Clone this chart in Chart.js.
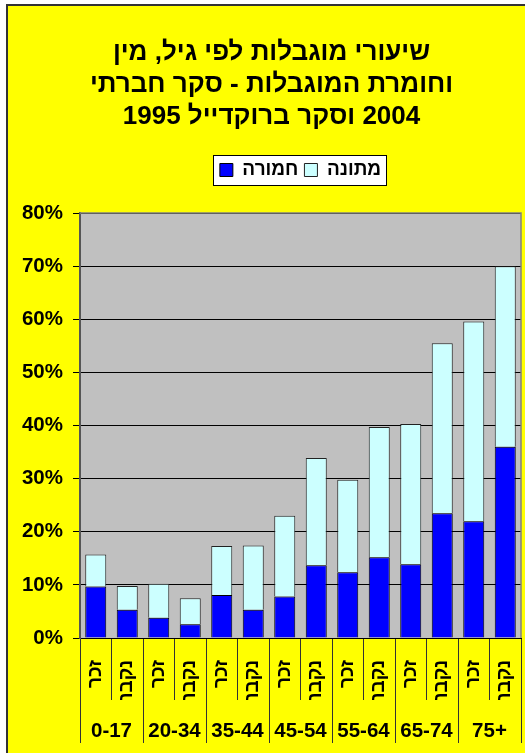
<!DOCTYPE html>
<html lang="he">
<head>
<meta charset="utf-8">
<script src="https://cdn.jsdelivr.net/npm/chart.js@4/dist/chart.umd.min.js"></script>
<style>
  html, body { margin: 0; padding: 0; background: #ffffff; overflow: hidden; }
  #frame {
    position: absolute; left: 6px; top: 4px;
    width: 560px; height: 800px;
    background: #FFFF00;
    border-left: 2px solid #333333;
    border-top: 2px solid #333333;
  }
  #chart { display: block; }
</style>
</head>
<body>
<div id="frame"><canvas id="chart" width="528" height="746"></canvas></div>
<script>
// Disability rates by age group and sex (percent), social survey 2004 / Brookdale 1995
const titleLines = [
  'שיעורי מוגבלות לפי גיל, מין',
  'וחומרת המוגבלות - סקר חברתי',
  '2004 וסקר ברוקדייל 1995'
];
const seriesNames = ['חמורה', 'מתונה'];
const ageGroups = ['0-17', '20-34', '35-44', '45-54', '55-64', '65-74', '75+'];
const sexes = ['זכר', 'נקבה'];
const severe   = [9.7, 5.3, 3.8, 2.6, 8.1, 5.3, 7.8, 13.7, 12.4, 15.2, 13.9, 23.5, 22.0, 36.0];
const moderate = [6.0, 4.5, 6.4, 4.9, 9.2, 12.1, 15.2, 20.2, 17.4, 24.5, 26.4, 32.0, 37.6, 34.0];
const yMax = 80;
const yStep = 10;

const barLabels = ageGroups.flatMap(() => sexes);
const FONT = "'Liberation Sans', 'DejaVu Sans', sans-serif";
// wrap each title line in a right-to-left embedding so numbers sit correctly
const rtlLine = s => '\u202B' + s + '\u202C';

Chart.defaults.font.family = FONT;
Chart.defaults.font.weight = 'bold';
Chart.defaults.color = '#000000';

// grey plot background, gray plot border, white framed legend
const decorations = {
  id: 'decorations',
  afterLayout(chart) {
    // centre the legend above the plot area
    const lg = chart.legend, ca = chart.chartArea;
    if (lg && ca) {
      lg.left = ca.left;
      lg.right = ca.right;
      lg.width = ca.right - ca.left;
    }
  },
  beforeDraw(chart) {
    const { ctx, chartArea: ca } = chart;
    ctx.save();
    ctx.fillStyle = '#C0C0C0';
    ctx.fillRect(ca.left, ca.top, ca.right - ca.left, ca.bottom - ca.top);
    const hb = chart.legend && chart.legend.legendHitBoxes;
    if (hb && hb.length) {
      const l = Math.min(...hb.map(h => h.left)) - 7;
      const r = Math.max(...hb.map(h => h.left + h.width)) + 5;
      const cy = hb[0].top + hb[0].height / 2;
      ctx.fillStyle = '#FFFFFF';
      ctx.strokeStyle = '#000000';
      ctx.lineWidth = 1;
      ctx.fillRect(Math.round(l), Math.round(cy - 15), Math.round(r - l), 30);
      ctx.strokeRect(Math.round(l) + 0.5, Math.round(cy - 15) + 0.5, Math.round(r - l), 30);
    }
    ctx.restore();
  },
  beforeDatasetsDraw(chart) {
    const { ctx, chartArea: ca } = chart;
    ctx.save();
    ctx.strokeStyle = '#808080';
    ctx.lineWidth = 1.5;
    ctx.beginPath();
    ctx.moveTo(ca.left, ca.top);
    ctx.lineTo(ca.right, ca.top);
    ctx.lineTo(ca.right, ca.bottom);
    ctx.stroke();
    ctx.restore();
  }
};

new Chart(document.getElementById('chart'), {
  type: 'bar',
  data: {
    labels: barLabels,
    datasets: [
      {
        label: seriesNames[0],
        data: severe,
        backgroundColor: '#0000FF',
        borderColor: '#000000',
        borderWidth: 1,
        xAxisID: 'x'
      },
      {
        label: seriesNames[1],
        data: moderate,
        backgroundColor: '#CCFFFF',
        borderColor: '#222222',
        borderWidth: 1,
        xAxisID: 'x'
      }
    ]
  },
  options: {
    responsive: false,
    animation: false,
    devicePixelRatio: 1,
    layout: { padding: { left: 14, right: 15, top: 0, bottom: 0 } },
    datasets: { bar: { categoryPercentage: 1.0, barPercentage: 0.667 } },
    plugins: {
      title: {
        display: true,
        text: titleLines.map(rtlLine),
        font: { size: 26, weight: 'bold', lineHeight: '32px' },
        color: '#000000',
        padding: { top: 31, bottom: 21.5 }
      },
      legend: {
        display: true,
        position: 'top',
        labels: {
          boxWidth: 13,
          boxHeight: 13,
          padding: 6,
          font: { size: 19, weight: 'bold' },
          color: '#000000'
        }
      },
      tooltip: { enabled: false }
    },
    scales: {
      gap: {
        type: 'category',
        position: 'top',
        labels: barLabels,
        grid: { display: false },
        border: { display: false },
        ticks: { display: false },
        afterFit(s) { s.height = 23.5; }
      },
      x: {
        type: 'category',
        position: 'bottom',
        stacked: true,
        offset: true,
        weight: 0,
        grid: {
          offset: true,
          drawOnChartArea: false,
          drawTicks: true,
          tickLength: 62,
          color: '#333333',
          lineWidth: 1
        },
        border: { display: true, color: '#000000', width: 1 },
        ticks: {
          autoSkip: false,
          minRotation: 90,
          maxRotation: 90,
          padding: -40,
          font: { size: 19, weight: 'bold' },
          color: '#000000'
        },
        afterFit(s) { s.height = 62; }
      },
      groups: {
        type: 'category',
        position: 'bottom',
        labels: ageGroups,
        offset: true,
        weight: 1,
        grid: {
          offset: true,
          drawOnChartArea: false,
          drawTicks: true,
          tickLength: 43,
          color: '#333333',
          lineWidth: 1
        },
        border: { display: false },
        ticks: {
          autoSkip: false,
          maxRotation: 0,
          padding: -23.5,
          font: { size: 20.5, weight: 'bold', lineHeight: 1.2 },
          color: '#000000'
        },
        afterFit(s) { s.height = 52; }
      },
      y: {
        stacked: true,
        min: 0,
        max: yMax,
        ticks: {
          stepSize: yStep,
          padding: 10,
          font: { size: 20.5, weight: 'bold' },
          color: '#000000',
          callback: v => v + '%'
        },
        grid: {
          color: '#000000',
          lineWidth: 1,
          tickLength: 7,
          drawTicks: true
        },
        border: { display: true, color: '#555555', width: 2 },
        afterFit(s) { s.width = 58; }
      }
    }
  },
  plugins: [decorations]
});
</script>
</body>
</html>
